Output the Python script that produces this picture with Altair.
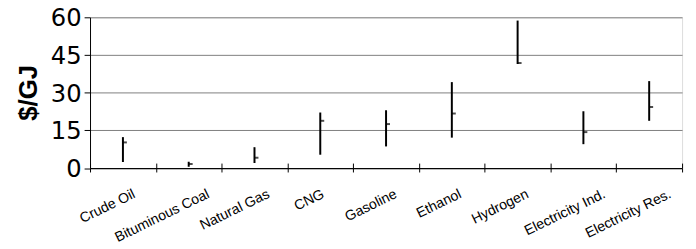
import altair as alt
import pandas as pd

categories = ["Crude Oil", "Bituminous Coal", "Natural Gas", "CNG", "Gasoline",
              "Ethanol", "Hydrogen", "Electricity Ind.", "Electricity Res."]
low = [2.4, 0.5, 2.0, 5.3, 8.6, 12.1, 41.4, 9.5, 18.8]
high = [12.3, 2.5, 8.3, 22.1, 23.0, 34.2, 58.7, 22.6, 34.6]
close = [10.2, 1.6, 4.1, 18.8, 17.5, 21.7, 41.8, 14.3, 24.3]
y_ticks = [0, 15, 30, 45, 60]

df = pd.DataFrame({"fuel": categories, "low": low, "high": high, "close": close})

FONT = "Liberation Sans"
H = 152.5

x_axis = alt.Axis(
    title=None, labelAngle=-26, labelAlign="right", labelBaseline="top",
    labelFontSize=14.3, labelFont=FONT, labelColor="black", labelPadding=15,
    labelOffset=alt.ExprRef("1.4*length(datum.label)-4.5"),
    labelLimit=0, tickBand="extent", tickSize=4, tickColor="black",
    domainColor="black", grid=True, gridColor="black",
    gridDash=[5, H - 5], gridDashOffset=5,
)
x = alt.X("fuel:N", sort=categories,
          scale=alt.Scale(paddingInner=0, paddingOuter=0), axis=x_axis)

y_axis = alt.Axis(
    values=y_ticks, title="$/GJ", titleFontSize=26, titleFont=FONT,
    titleFontWeight="bold", titleAngle=270, titleX=-62, titleY=76,
    titleAlign="center", titleBaseline="middle", titleColor="black",
    labelFontSize=24.5, labelFont="DejaVu Sans", labelPadding=3, labelColor="black",
    labelOffset=1.5,
    tickSize=6, tickColor="black", domainColor="black",
    grid=True, gridColor="#808080",
)
yscale = alt.Scale(domain=[0, 60], nice=False)

rules = alt.Chart(df).mark_rule(color="black", strokeWidth=2).encode(
    x=x,
    y=alt.Y("low:Q", scale=yscale, axis=y_axis),
    y2="high:Q",
)
ticks = alt.Chart(df).mark_tick(color="black", size=4, thickness=2, xOffset=2).encode(
    x=x,
    y=alt.Y("close:Q", scale=yscale, axis=y_axis),
)

chart = alt.layer(rules, ticks).properties(
    width=599, height=H,
    autosize=alt.AutoSizeParams(type="none"),
    padding={"left": 83, "top": 8, "right": 6, "bottom": 80},
).configure_view(stroke="#808080", strokeWidth=1).configure(background="white")

chart.save("out.html", embed_options={"renderer": "svg", "actions": False})
